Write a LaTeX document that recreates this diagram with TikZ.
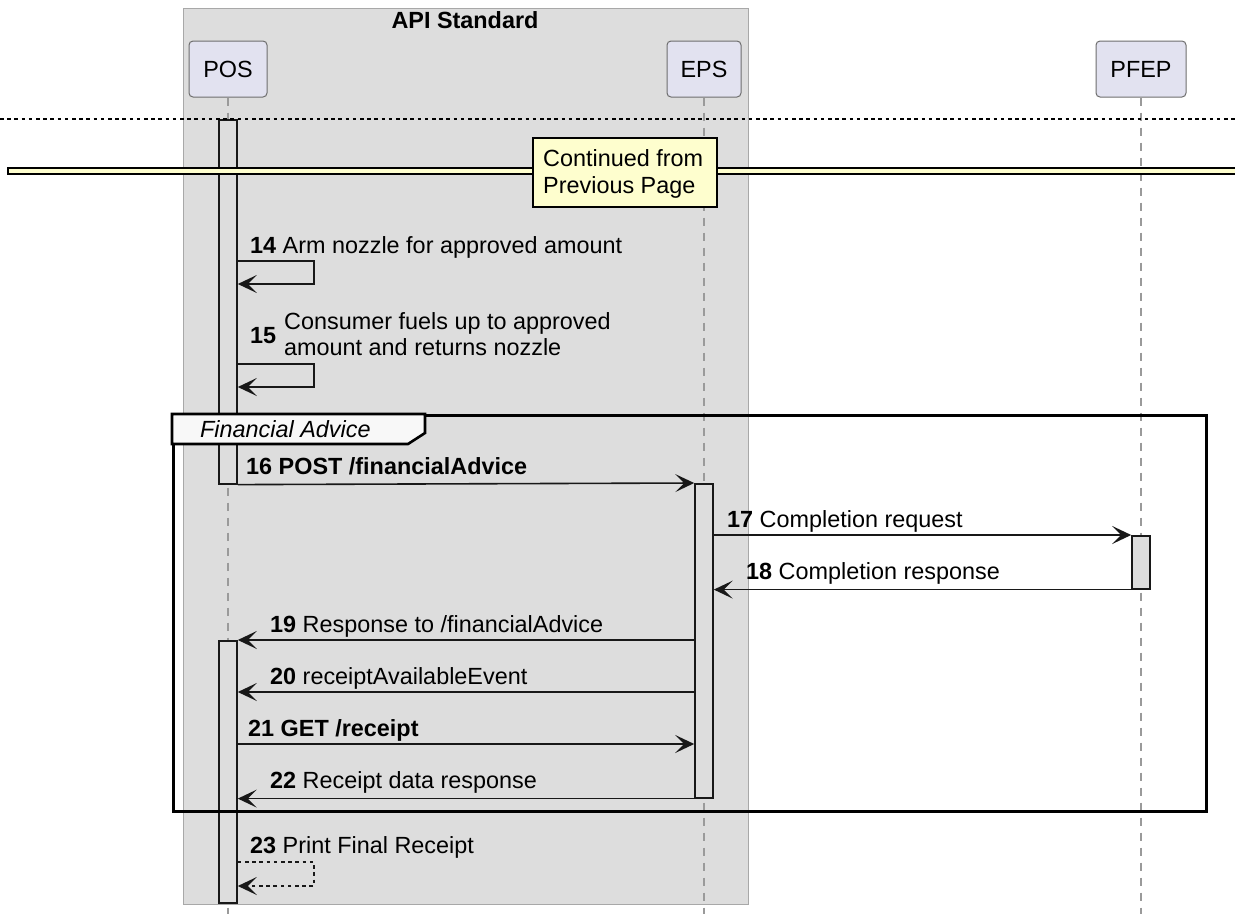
\documentclass[tikz,border=0pt]{standalone}
\usepackage{fontspec}
\setmainfont{Liberation Sans}
\usetikzlibrary{arrows.meta}
\definecolor{boxgray}{HTML}{DDDDDD}
\definecolor{boxline}{HTML}{A8A8A8}
\definecolor{partfill}{HTML}{E2E2F0}
\definecolor{partline}{HTML}{6E6E6E}
\definecolor{barfill}{HTML}{DDDDDD}
\definecolor{notefill}{HTML}{FEFECE}
\definecolor{ink}{HTML}{181818}
\definecolor{lifegray}{HTML}{9A9A9A}
\definecolor{tabfill}{HTML}{F8F8F8}
\newcommand{\msgfont}{\fontsize{23.4pt}{27pt}\selectfont}
\begin{document}
\begin{tikzpicture}[x=1pt,y=-1pt,
  every node/.style={inner sep=0pt, font=\msgfont, text=black},
  part/.style={draw=partline, fill=partfill, rounded corners=4pt, line width=1pt, minimum height=56pt},
  bar/.style={draw=ink, fill=barfill, line width=1.6pt, minimum width=18pt, anchor=north},
  life/.style={draw=lifegray, line width=1.2pt, dash pattern=on 8pt off 7pt},
  msg/.style={draw=ink, line width=1.6pt, -{Stealth[length=19pt,width=18pt,inset=9pt]}},
  rmsg/.style={msg, dash pattern=on 3.6pt off 3.6pt},
  lbl/.style={anchor=base west},
  frm/.style={draw=black, line width=2.6pt},
]
\useasboundingbox (0,0) rectangle (1235,914);
\fill[white] (0,0) rectangle (1235,914);

% API Standard box
\node[draw=boxline, fill=boxgray, line width=1.4pt, minimum width=565pt, minimum height=896pt, anchor=north west] (apibox) at (182.6,8) {};
\node[anchor=base, font=\msgfont\bfseries] (title) at (465,28) {API Standard};

% participants
\node[part, minimum width=78pt] (pos) at (228,69) {POS};
\node[part, minimum width=74pt] (eps) at (704,69) {EPS};
\node[part, minimum width=90pt] (pfep) at (1141,69) {PFEP};

% lifeline ends
\coordinate (posend) at (228,914);
\coordinate (epsend) at (704,914);
\coordinate (pfepend) at (1141,914);
\draw[life] (pos.south) -- (posend);
\draw[life] (eps.south) -- (epsend);
\draw[life] (pfep.south) -- (pfepend);

% activation bars
\node[bar, minimum height=364pt] (posbarA) at (228,119) {};
\node[bar, minimum height=262pt] (posbarB) at (228,640) {};
\node[bar, minimum height=314pt] (epsbar) at (704,483) {};
\node[bar, minimum height=53pt] (pfepbar) at (1141,535) {};

% delay line and divider
\draw[black, line width=1.4pt, dash pattern=on 3.6pt off 3.6pt] (0,119) -- (1235,119);
\draw[black, line width=1.3pt, fill=notefill] (8,168) rectangle (1240,174);
\node[draw=black, fill=notefill, line width=2.4pt, minimum width=184pt, minimum height=69pt, anchor=north west] (note) at (532,137) {};
\node[lbl] (note1) at (543,166) {Continued from};
\node[lbl] (note2) at (543,193) {Previous Page};

% message levels
\coordinate (y14a) at (0,261);
\coordinate (y14b) at (0,284);
\coordinate (y15a) at (0,364);
\coordinate (y15b) at (0,387);
\coordinate (y20) at (0,692);
\coordinate (y21) at (0,744);
\coordinate (y23a) at (0,862);
\coordinate (y23b) at (0,886);

% 14
\draw[msg] (posbarA.east |- y14a) -- ++(76,0) -- ++(0,23) -- (posbarA.east |- y14b);
\node[lbl] (t14) at (250,253) {\textbf{14} Arm nozzle for approved amount};
% 15
\draw[msg] (posbarA.east |- y15a) -- ++(76,0) -- ++(0,23) -- (posbarA.east |- y15b);
\node[lbl, font=\msgfont\bfseries] (t15n) at (250,343) {15};
\node[lbl] (t15a) at (284,329) {Consumer fuels up to approved};
\node[lbl] (t15b) at (284,355) {amount and returns nozzle};

% frame
\node[frm, minimum width=1033pt, minimum height=396pt, anchor=north west] (frame) at (172,414) {};
\draw[frm, fill=tabfill] (frame.north west) -- ++(253,0) -- ++(0,19) -- ++(-17,11) -- ++(-236,0) -- cycle;
\node[lbl, font=\msgfont\itshape] (fa) at (200,437) {Financial Advice};

% 16
\draw[msg] (posbarA.south east) -- (epsbar.north west);
\node[lbl, font=\msgfont\bfseries] (t16) at (246,474) {16 POST /financialAdvice};
% 17
\draw[msg] (epsbar.east |- pfepbar.north) -- (pfepbar.north west);
\node[lbl] (t17) at (727,527) {\textbf{17} Completion request};
% 18
\draw[msg] (pfepbar.south west) -- (epsbar.east |- pfepbar.south);
\node[lbl] (t18) at (746,579) {\textbf{18} Completion response};
% 19
\draw[msg] (epsbar.west |- posbarB.north) -- (posbarB.north east);
\node[lbl] (t19) at (270,632) {\textbf{19} Response to /financialAdvice};
% 20
\draw[msg] (epsbar.west |- y20) -- (posbarB.east |- y20);
\node[lbl] (t20) at (270,684) {\textbf{20} receiptAvailableEvent};
% 21
\draw[msg] (posbarB.east |- y21) -- (epsbar.west |- y21);
\node[lbl, font=\msgfont\bfseries] (t21) at (248,736) {21 GET /receipt};
% 22
\draw[msg] (epsbar.south west) -- (posbarB.east |- epsbar.south);
\node[lbl] (t22) at (270,788) {\textbf{22} Receipt data response};
% 23
\draw[rmsg] (posbarB.east |- y23a) -- ++(76,0) -- ++(0,24) -- (posbarB.east |- y23b);
\node[lbl] (t23) at (250,853) {\textbf{23} Print Final Receipt};
\end{tikzpicture}
\end{document}
